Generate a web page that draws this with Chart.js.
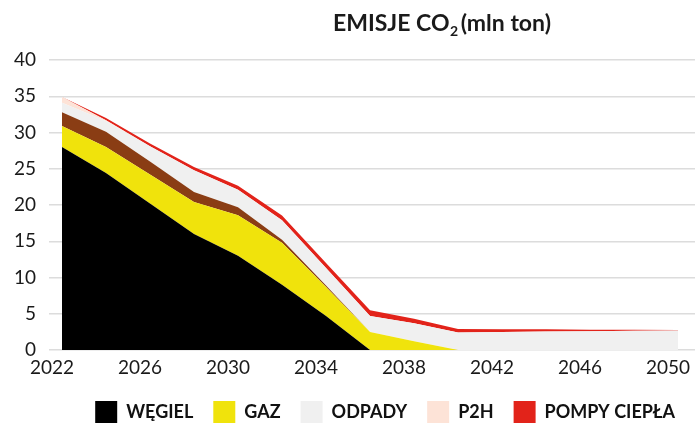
<!DOCTYPE html>
<html lang="pl">
<head>
<meta charset="utf-8">
<script src="https://cdn.jsdelivr.net/npm/chart.js@4/dist/chart.umd.min.js"></script>
<style>
  html, body { margin: 0; padding: 0; background: #ffffff; }
  #wrap { width: 696px; height: 423px; position: relative; }
</style>
</head>
<body>
<div id="wrap"><canvas id="chart"></canvas></div>
<script>
// Years of the scenario (every second year)
const years = [2022, 2024, 2026, 2028, 2030, 2032, 2034, 2036, 2038, 2040, 2042, 2044, 2046, 2048, 2050];

// Emissions per source, mln t CO2 (stacked from the bottom up)
const wegiel = [28.0, 24.4, 20.2, 16.0, 13.0, 9.0, 4.7, 0.0, 0.0, 0.0, 0.0, 0.0, 0.0, 0.0, 0.0];
const gaz    = [2.9, 3.6, 4.0, 4.4, 5.6, 5.8, 4.0, 2.5, 1.2, 0.0, 0.0, 0.0, 0.0, 0.0, 0.0];
const inne   = [1.9, 2.1, 1.8, 1.4, 1.1, 0.4, 0.2, 0.0, 0.0, 0.0, 0.0, 0.0, 0.0, 0.0, 0.0];
const odpady = [1.3, 1.5, 2.1, 3.0, 2.4, 2.7, 2.4, 2.2, 2.5, 2.4, 2.5, 2.55, 2.6, 2.65, 2.7];
const p2h    = [0.8, 0.1, 0.0, 0.0, 0.0, 0.0, 0.0, 0.0, 0.0, 0.0, 0.0, 0.0, 0.0, 0.0, 0.0];
const pompy  = [0.0, 0.3, 0.4, 0.45, 0.55, 0.65, 0.7, 0.8, 0.6, 0.5, 0.35, 0.3, 0.2, 0.15, 0.05];

// Axis ticks
const xTickYears = [2022, 2026, 2030, 2034, 2038, 2042, 2046, 2050];
const yTicks = [0, 5, 10, 15, 20, 25, 30, 35, 40];

const series = [
  { label: 'WĘGIEL',       values: wegiel, color: '#000000' },
  { label: 'GAZ',          values: gaz,    color: '#f0e30c' },
  { label: '',             values: inne,   color: '#8a3d14' },
  { label: 'ODPADY',       values: odpady, color: '#f0f0f0' },
  { label: 'P2H',          values: p2h,    color: '#fde3d7' },
  { label: 'POMPY CIEPŁA', values: pompy,  color: '#e2231a' }
];

const datasets = series.map((s, i) => ({
  label: s.label,
  data: years.map((yr, k) => ({ x: yr, y: s.values[k] })),
  backgroundColor: s.color,
  borderColor: s.color,
  borderWidth: 0,
  pointRadius: 0,
  tension: 0,
  fill: i === 0 ? 'origin' : '-1'
}));

// Title with a subscript "2"
const titlePlugin = {
  id: 'subTitle',
  afterDraw(chart) {
    const ctx = chart.ctx;
    ctx.save();
    ctx.fillStyle = '#1a1a1a';
    ctx.textBaseline = 'alphabetic';
    ctx.textAlign = 'left';
    let x = 333;
    const base = 31;
    ctx.font = 'bold 23px Lato';
    ctx.fillText('EMISJE CO', x, base);
    x += ctx.measureText('EMISJE CO').width;
    ctx.font = 'bold 14px Lato';
    ctx.fillText('2', x + 0.5, base + 5);
    x += ctx.measureText('2').width + 2;
    ctx.font = 'bold 23px Lato';
    ctx.fillText('(mln ton)', x + 1, base);
    ctx.restore();
  }
};

new Chart(document.getElementById('chart'), {
  type: 'line',
  data: { datasets },
  plugins: [titlePlugin],
  options: {
    responsive: true,
    maintainAspectRatio: false,
    animation: false,
    layout: { padding: { top: 60, right: 1, bottom: -10, left: 0 } },
    plugins: {
      title: { display: false },
      tooltip: { enabled: false },
      legend: {
        position: 'bottom',
        align: 'end',
        labels: {
          boxWidth: 22,
          boxHeight: 22,
          padding: 20,
          color: '#111111',
          font: { family: 'Lato', size: 18, weight: 'bold' },
          filter: item => item.text !== ''
        }
      }
    },
    scales: {
      x: {
        type: 'linear',
        min: 2021.41,
        max: 2050.77,
        afterBuildTicks: scale => { scale.ticks = xTickYears.map(v => ({ value: v })); },
        afterFit: scale => { scale.height = 31; scale.paddingLeft = 0; scale.paddingRight = 0; },
        grid: { display: false, drawTicks: false },
        border: { display: false },
        ticks: {
          padding: 6,
          labelOffset: -10,
          color: '#1a1a1a',
          font: { family: 'Lato', size: 19 },
          maxRotation: 0,
          autoSkip: false,
          callback: v => String(v)
        }
      },
      y: {
        stacked: true,
        min: 0,
        max: 40,
        afterBuildTicks: scale => { scale.ticks = yTicks.map(v => ({ value: v })); },
        afterFit: scale => { scale.width = 49; },
        grid: { color: '#dcdcdc', lineWidth: 1.5, drawTicks: false },
        border: { display: false },
        ticks: {
          padding: 13,
          color: '#1a1a1a',
          font: { family: 'Lato', size: 19 },
          callback: v => String(v)
        }
      }
    }
  }
});
</script>
</body>
</html>
